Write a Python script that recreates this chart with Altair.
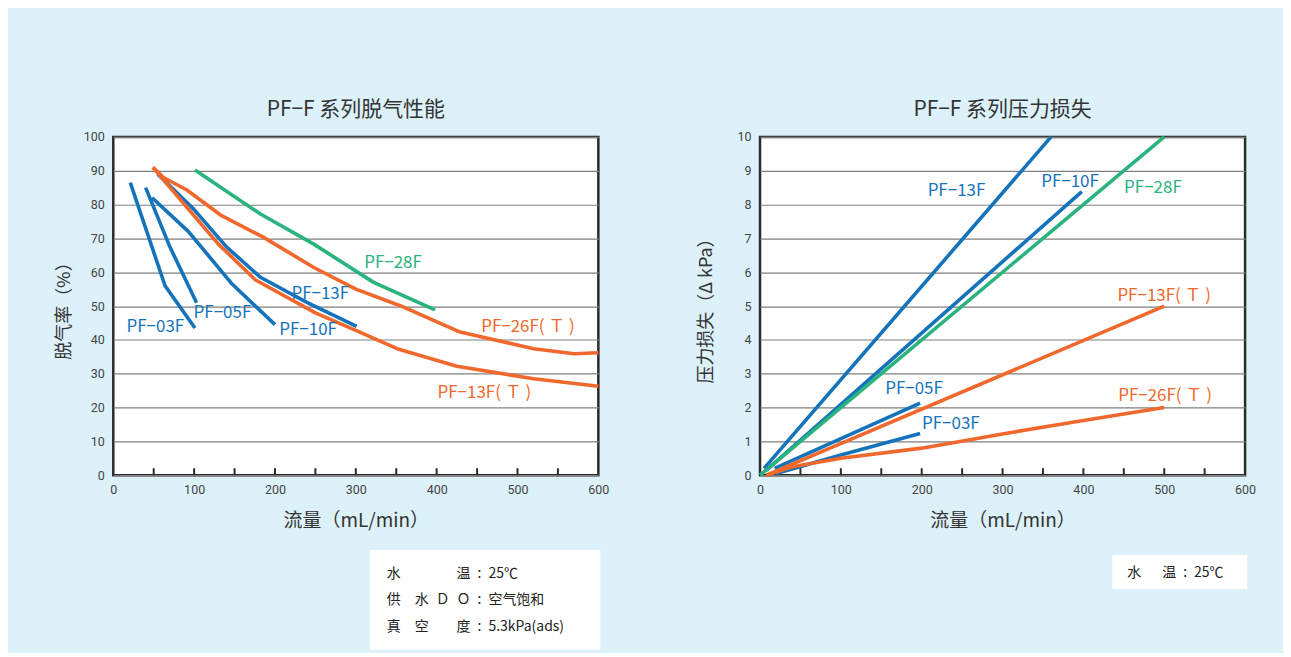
import altair as alt
import pandas as pd

FONT = "Noto Sans CJK SC"
NUM_FONT = "Roboto"
BG = "#DDF1FA"
BLUE = "#1473BB"
GREEN = "#2AB37D"
ORANGE = "#F0682C"

SERIES = ["PF-03F", "PF-05F", "PF-10F", "PF-13F", "PF-28F", "PF-13F(T)", "PF-26F(T)"]
SERIES_COLORS = [BLUE, BLUE, BLUE, BLUE, GREEN, ORANGE, ORANGE]

# ---- left chart: degassing rate (%) vs flow (mL/min)
dg03_x = [21, 64, 101]
dg03_y = [86.5, 56, 43.5]
dg05_x = [40, 70, 103]
dg05_y = [85, 67.5, 51]
dg10_x = [48, 93, 147, 200]
dg10_y = [82, 72, 56.5, 44.5]
dg13_x = [55, 100, 140, 182, 240, 301]
dg13_y = [89, 78.5, 67.5, 58.5, 51, 44]
dg28_x = [101, 182, 248, 322, 398]
dg28_y = [90.2, 77.2, 68.3, 57, 48.9]
dg13t_x = [49, 90, 130, 176, 250, 300, 351, 425, 520, 600]
dg13t_y = [91, 79.5, 68.3, 57.7, 48, 42.8, 37.4, 32.2, 28.5, 26.3]
dg26t_x = [49, 62, 91, 134, 186, 248, 300, 355, 429, 520, 570, 600]
dg26t_y = [91, 88, 84.3, 76.7, 70.3, 61.4, 55, 50.1, 42.3, 37.4, 35.9, 36.2]

dg_label_text = ["PF−03F", "PF−05F", "PF−10F", "PF−13F", "PF−28F", "PF−26F( Ｔ )", "PF−13F( Ｔ )"]
dg_label_series = ["PF-03F", "PF-05F", "PF-10F", "PF-13F", "PF-28F", "PF-26F(T)", "PF-13F(T)"]
dg_label_x = [52, 135, 241, 256, 346, 513, 459]
dg_label_y = [43.7, 47.8, 42.8, 53.7, 62.8, 43.7, 24.2]

# ---- right chart: pressure loss (kPa) vs flow (mL/min)
pl03_x = [20, 100, 198]
pl03_y = [0.05, 0.6, 1.23]
pl05_x = [18, 198]
pl05_y = [0.2, 2.13]
pl10_x = [8, 398]
pl10_y = [0.15, 8.38]
pl13_x = [5, 360]
pl13_y = [0.2, 10]
pl28_x = [0, 500]
pl28_y = [0, 10]
pl13t_x = [8, 500]
pl13t_y = [0, 5]
pl26t_x = [8, 40, 100, 200, 300, 400, 500]
pl26t_y = [0, 0.25, 0.5, 0.8, 1.22, 1.62, 2.0]

pl_label_text = ["PF−13F", "PF−10F", "PF−28F", "PF−13F( Ｔ )", "PF−05F", "PF−03F", "PF−26F( Ｔ )"]
pl_label_series = ["PF-13F", "PF-10F", "PF-28F", "PF-13F(T)", "PF-05F", "PF-03F", "PF-26F(T)"]
pl_label_x = [243, 383.5, 486, 500, 190.5, 236, 501]
pl_label_y = [8.4, 8.67, 8.5, 5.3, 2.54, 1.5, 2.33]

x_labels = [0, 100, 200, 300, 400, 500, 600]
x_minor = [50, 100, 150, 200, 250, 300, 350, 400, 450, 500, 550]
dg_y_ticks = [0, 10, 20, 30, 40, 50, 60, 70, 80, 90, 100]
pl_y_ticks = [0, 1, 2, 3, 4, 5, 6, 7, 8, 9, 10]

note_left = ["水　　　　温\u2002:\u200225℃",
             "供　水\u2002Ｄ\u2002Ｏ\u2002:\u2002空气饱和",
             "真　空　　度\u2002:\u20025.3kPa(ads)"]
note_right = ["水　\u2002温\u2002:\u200225℃"]

W, H = 486, 339


def long_frame(pairs):
    rows = []
    for name, xs, ys in pairs:
        for i, (a, b) in enumerate(zip(xs, ys)):
            rows.append({"series": name, "x": a, "y": b, "i": i})
    return pd.DataFrame(rows)


dg_df = long_frame([
    ("PF-03F", dg03_x, dg03_y), ("PF-05F", dg05_x, dg05_y),
    ("PF-10F", dg10_x, dg10_y), ("PF-13F", dg13_x, dg13_y),
    ("PF-28F", dg28_x, dg28_y), ("PF-13F(T)", dg13t_x, dg13t_y),
    ("PF-26F(T)", dg26t_x, dg26t_y)])
pl_df = long_frame([
    ("PF-03F", pl03_x, pl03_y), ("PF-05F", pl05_x, pl05_y),
    ("PF-10F", pl10_x, pl10_y), ("PF-13F", pl13_x, pl13_y),
    ("PF-28F", pl28_x, pl28_y), ("PF-13F(T)", pl13t_x, pl13t_y),
    ("PF-26F(T)", pl26t_x, pl26t_y)])

color = alt.Color("series:N", scale=alt.Scale(domain=SERIES, range=SERIES_COLORS), legend=None)


def panel(df, lab_text, lab_series, lab_x, lab_y, y_max, y_ticks, y_title, y_title_pad,
          title, notes, box, text_x, text_y0):
    xscale = alt.Scale(domain=[0, 600], nice=False)
    yscale = alt.Scale(domain=[0, y_max], nice=False)
    x_axis = alt.Axis(values=x_labels, grid=False, ticks=False, tickSize=0, labelFlush=False,
                      domain=False, labelPadding=8.5, title="流量（mL/min）",
                      titlePadding=15, titleFontSize=19)
    y_axis = alt.Axis(values=y_ticks, grid=True, ticks=False, tickSize=0, labelFlush=False,
                      domain=False, labelPadding=9, title=y_title,
                      titlePadding=y_title_pad, titleFontSize=18)
    x_enc = alt.X("x:Q", scale=xscale, axis=x_axis)
    y_enc = alt.Y("y:Q", scale=yscale, axis=y_axis)

    lines = alt.Chart(df).mark_line(strokeWidth=3.6, strokeCap="butt", strokeJoin="round").encode(
        x=x_enc, y=y_enc, color=color, order="i:Q")

    minor = alt.Chart(pd.DataFrame({"x": x_minor})).mark_rule(color="#2b2b2b", strokeWidth=2).encode(
        x=x_enc, y=alt.value(H), y2=alt.value(H - 7))

    lab_df = pd.DataFrame({"t": lab_text, "series": lab_series, "x": lab_x, "y": lab_y})
    labels = alt.Chart(lab_df).mark_text(font=FONT, fontSize=17, align="center", baseline="middle").encode(
        x=x_enc, y=y_enc, text="t:N", color=color)

    layers = [lines, minor, labels]
    bx0, bx1, by0, by1 = box
    layers.append(alt.Chart(pd.DataFrame({"a": [0]})).mark_rect(color="white").encode(
        x=alt.value(bx0), x2=alt.value(bx1), y=alt.value(by0), y2=alt.value(by1)))
    for k, row in enumerate(notes):
        layers.append(alt.Chart(pd.DataFrame({"t": [row]})).mark_text(
            font=FONT, fontSize=14, align="left", baseline="middle", color="#222222").encode(
            x=alt.value(text_x), y=alt.value(text_y0 + 26.7 * k), text="t:N"))

    return alt.layer(*layers).properties(
        width=W, height=H,
        title=alt.Title(title, fontSize=21, offset=10.5, font=FONT, fontWeight="normal", color="#333333"))


left = panel(dg_df, dg_label_text, dg_label_series, dg_label_x, dg_label_y, 100, dg_y_ticks,
             "脱气率（%）", 9.5, "PF−F 系列脱气性能", note_left,
             (257, 488, 414, 514), 274, 437.5)
right = panel(pl_df, pl_label_text, pl_label_series, pl_label_x, pl_label_y, 10, pl_y_ticks,
              "压力损失（Δ kPa）", 22, "PF−F 系列压力损失", note_right,
              (353, 488, 419, 453), 368, 437)

chart = alt.hconcat(left, right, spacing=162, bounds="flush").properties(
    background=BG,
    padding={"left": 46.5, "top": 89.5, "right": 26, "bottom": 0},
).configure_view(
    stroke="#2b2b2b", strokeWidth=2.5, fill="white"
).configure_axis(
    labelFont=NUM_FONT, labelFontSize=12.5, labelColor="#444444",
    titleFont=FONT, titleColor="#333333", titleFontWeight="normal",
    gridColor="#7f7f7f", gridWidth=1.2
).configure_title(
    font=FONT, anchor="middle"
)

chart.save("out.html", embed_options={"renderer": "svg", "actions": False})
